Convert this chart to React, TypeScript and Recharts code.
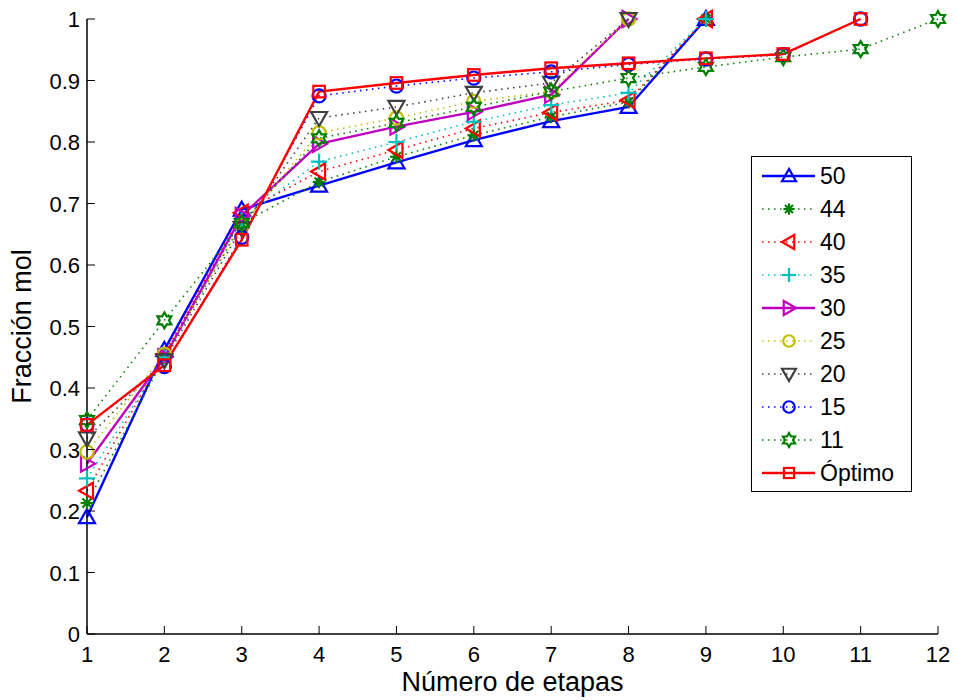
import React from "react"
import { LineChart, Line, XAxis, YAxis } from "recharts"

// etapas 1..12 and the mole fraction reached for each reflux case
const steps = [1, 2, 3, 4, 5, 6, 7, 8, 9, 10, 11, 12]
const yTicks = [0, 0.1, 0.2, 0.3, 0.4, 0.5, 0.6, 0.7, 0.8, 0.9, 1]

const s50 = [0.19, 0.462, 0.69, 0.729, 0.767, 0.803, 0.834, 0.857, 1.0, null, null, null]
const s44 = [0.213, 0.45, 0.668, 0.735, 0.776, 0.811, 0.841, 0.865, 1.0, null, null, null]
const s40 = [0.233, 0.455, 0.685, 0.752, 0.787, 0.822, 0.848, 0.868, 1.0, null, null, null]
const s35 = [0.253, 0.45, 0.675, 0.768, 0.8, 0.833, 0.86, 0.88, 1.0, null, null, null]
const s30 = [0.277, 0.45, 0.68, 0.797, 0.825, 0.849, 0.877, 1.0, null, null, null, null]
const s25 = [0.296, 0.455, 0.665, 0.815, 0.839, 0.866, 0.882, 1.0, null, null, null, null]
const s20 = [0.318, 0.445, 0.66, 0.839, 0.857, 0.88, 0.896, 1.0, null, null, null, null]
const s15 = [0.34, 0.435, 0.645, 0.875, 0.891, 0.904, 0.914, 0.926, 0.935, 0.942, 1.0, null]
const s11 = [0.348, 0.51, 0.668, 0.806, 0.831, 0.857, 0.882, 0.904, 0.922, 0.938, 0.951, 1.0]
const optimo = [0.34, 0.437, 0.641, 0.882, 0.896, 0.909, 0.92, 0.928, 0.936, 0.943, 1.0, null]

type Shape = "tri-up" | "star" | "tri-left" | "plus" | "tri-right" | "circle" | "tri-down" | "hexagram" | "square"

const series: { key: string; name: string; values: (number | null)[]; color: string; dotted: boolean; shape: Shape }[] = [
  { key: "s50", name: "50", values: s50, color: "#0000ff", dotted: false, shape: "tri-up" },
  { key: "s44", name: "44", values: s44, color: "#008000", dotted: true, shape: "star" },
  { key: "s40", name: "40", values: s40, color: "#ff0000", dotted: true, shape: "tri-left" },
  { key: "s35", name: "35", values: s35, color: "#00bfbf", dotted: true, shape: "plus" },
  { key: "s30", name: "30", values: s30, color: "#bf00bf", dotted: false, shape: "tri-right" },
  { key: "s25", name: "25", values: s25, color: "#bfbf00", dotted: true, shape: "circle" },
  { key: "s20", name: "20", values: s20, color: "#404040", dotted: true, shape: "tri-down" },
  { key: "s15", name: "15", values: s15, color: "#0000ff", dotted: true, shape: "circle" },
  { key: "s11", name: "11", values: s11, color: "#008000", dotted: true, shape: "hexagram" },
  { key: "opt", name: "Óptimo", values: optimo, color: "#ff0000", dotted: false, shape: "square" },
]

const rows = steps.map((step, i) => {
  const row: Record<string, number | null> = { step }
  series.forEach((s) => {
    row[s.key] = s.values[i]
  })
  return row
})

const FONT = "'Liberation Sans', Arial, sans-serif"

function Marker({ shape, color, cx, cy, r = 8 }: { shape: Shape; color: string; cx: number; cy: number; r?: number }) {
  const common = { fill: "none", stroke: color, strokeWidth: 2.2 }
  switch (shape) {
    case "tri-up":
      return <polygon {...common} points={`${cx},${cy - r} ${cx - r},${cy + r * 0.75} ${cx + r},${cy + r * 0.75}`} />
    case "tri-down":
      return <polygon {...common} points={`${cx},${cy + r} ${cx - r},${cy - r * 0.75} ${cx + r},${cy - r * 0.75}`} />
    case "tri-left":
      return <polygon {...common} points={`${cx - r},${cy} ${cx + r * 0.75},${cy - r} ${cx + r * 0.75},${cy + r}`} />
    case "tri-right":
      return <polygon {...common} points={`${cx + r},${cy} ${cx - r * 0.75},${cy - r} ${cx - r * 0.75},${cy + r}`} />
    case "circle":
      return <circle {...common} cx={cx} cy={cy} r={r * 0.82} />
    case "square": {
      const h = r * 0.72
      return <rect {...common} x={cx - h} y={cy - h} width={2 * h} height={2 * h} />
    }
    case "plus":
      return (
        <g {...common}>
          <line x1={cx - r} y1={cy} x2={cx + r} y2={cy} />
          <line x1={cx} y1={cy - r} x2={cx} y2={cy + r} />
        </g>
      )
    case "star": {
      const a = r * 0.8
      const d = a * 0.707
      return (
        <g {...common}>
          <line x1={cx - a} y1={cy} x2={cx + a} y2={cy} />
          <line x1={cx} y1={cy - a} x2={cx} y2={cy + a} />
          <line x1={cx - d} y1={cy - d} x2={cx + d} y2={cy + d} />
          <line x1={cx - d} y1={cy + d} x2={cx + d} y2={cy - d} />
        </g>
      )
    }
    case "hexagram": {
      const pts: string[] = []
      for (let k = 0; k < 12; k++) {
        const ang = (Math.PI / 6) * k - Math.PI / 2
        const rad = k % 2 === 0 ? r : r / 1.732
        pts.push(`${cx + rad * Math.cos(ang)},${cy + rad * Math.sin(ang)}`)
      }
      return <polygon {...common} points={pts.join(" ")} />
    }
  }
  return null
}

const fmt = (v: number) => String(Math.round(v * 10) / 10)

// ticks are drawn inward, MATLAB style, with labels outside the box
const BottomTick = (props: any) => {
  const { x, y, payload } = props
  return (
    <g>
      <line x1={x} y1={y} x2={x} y2={y - 8} stroke="#000" strokeWidth={1} />
      <text x={x} y={y + 28} textAnchor="middle" fontSize={22} fontFamily={FONT} fill="#000">
        {payload.value}
      </text>
    </g>
  )
}

const TopTick = (props: any) => {
  const { x, y } = props
  return <line x1={x} y1={y} x2={x} y2={y + 8} stroke="#000" strokeWidth={1} />
}

const LeftTick = (props: any) => {
  const { x, y, payload } = props
  return (
    <g>
      <line x1={x} y1={y} x2={x + 8} y2={y} stroke="#000" strokeWidth={1} />
      <text x={x - 7} y={y + 8} textAnchor="end" fontSize={22} fontFamily={FONT} fill="#000">
        {fmt(payload.value)}
      </text>
    </g>
  )
}

const RightTick = (props: any) => {
  const { x, y } = props
  return <line x1={x} y1={y} x2={x - 8} y2={y} stroke="#000" strokeWidth={1} />
}

function ChartLegend() {
  const rowH = 33
  return (
    <svg width={161} height={336} style={{ position: "absolute", left: 751, top: 156 }}>
      <rect x={0.5} y={0.5} width={160} height={335} fill="#fff" stroke="#000" strokeWidth={1} />
      {series.map((s, i) => {
        const cy = 20 + i * rowH
        return (
          <g key={s.key}>
            <line
              x1={11}
              y1={cy}
              x2={64}
              y2={cy}
              stroke={s.color}
              strokeWidth={s.dotted ? 1.6 : 2.4}
              strokeDasharray={s.dotted ? "1.5 4.5" : undefined}
            />
            <Marker shape={s.shape} color={s.color} cx={38} cy={cy} r={7} />
            <text x={69} y={cy + 8} fontSize={23} fontFamily={FONT} fill="#000">
              {s.name}
            </text>
          </g>
        )
      })}
    </svg>
  )
}

export default function App() {
  return (
    <div style={{ position: "fixed", left: 0, top: 0, width: 957, height: 700, background: "#fff" }}>
      <LineChart width={957} height={700} data={rows} margin={{ top: 19, right: 19, left: 0, bottom: 0 }}>
        <XAxis
          dataKey="step"
          type="number"
          domain={[1, 12]}
          ticks={steps}
          height={66}
          tickSize={0}
          tickMargin={0}
          tickLine={false}
          tick={<BottomTick />}
          axisLine={{ stroke: "#000", strokeWidth: 1.5 }}
          label={(p: any) => {
            const vb = p.viewBox
            return (
              <text x={vb.x + vb.width / 2} y={691} textAnchor="middle" fontSize={27} fontFamily={FONT} fill="#000">
                Número de etapas
              </text>
            )
          }}
        />
        <XAxis
          xAxisId="top"
          orientation="top"
          dataKey="step"
          type="number"
          domain={[1, 12]}
          ticks={steps}
          height={0}
          tickSize={0}
          tickMargin={0}
          tickLine={false}
          tick={<TopTick />}
          axisLine={{ stroke: "#000", strokeWidth: 1.5 }}
        />
        <YAxis
          type="number"
          domain={[0, 1]}
          ticks={yTicks}
          width={87}
          tickSize={0}
          tickMargin={0}
          tickLine={false}
          tick={<LeftTick />}
          axisLine={{ stroke: "#000", strokeWidth: 1.5 }}
          label={(p: any) => {
            const vb = p.viewBox
            const cy = vb.y + vb.height / 2
            return (
              <text
                x={22}
                y={cy}
                transform={`rotate(-90, 22, ${cy})`}
                textAnchor="middle"
                dominantBaseline="central"
                fontSize={27}
                fontFamily={FONT}
                fill="#000"
              >
                Fracción mol
              </text>
            )
          }}
        />
        <YAxis
          yAxisId="right"
          orientation="right"
          type="number"
          domain={[0, 1]}
          ticks={yTicks}
          width={0}
          tickSize={0}
          tickMargin={0}
          tickLine={false}
          tick={<RightTick />}
          axisLine={{ stroke: "#000", strokeWidth: 1.5 }}
        />
        {series.map((s) => (
          <Line
            key={s.key}
            dataKey={s.key}
            name={s.name}
            type="linear"
            stroke={s.color}
            strokeWidth={s.dotted ? 1.6 : 2.4}
            strokeDasharray={s.dotted ? "1.5 4.5" : undefined}
            isAnimationActive={false}
            activeDot={false}
            dot={(p: any) => {
              if (p.cy == null || p.value == null) return <g key={`${s.key}-${p.index}`} />
              return (
                <g key={`${s.key}-${p.index}`}>
                  <Marker shape={s.shape} color={s.color} cx={p.cx} cy={p.cy} />
                </g>
              )
            }}
          />
        ))}
      </LineChart>
      <ChartLegend />
    </div>
  )
}
